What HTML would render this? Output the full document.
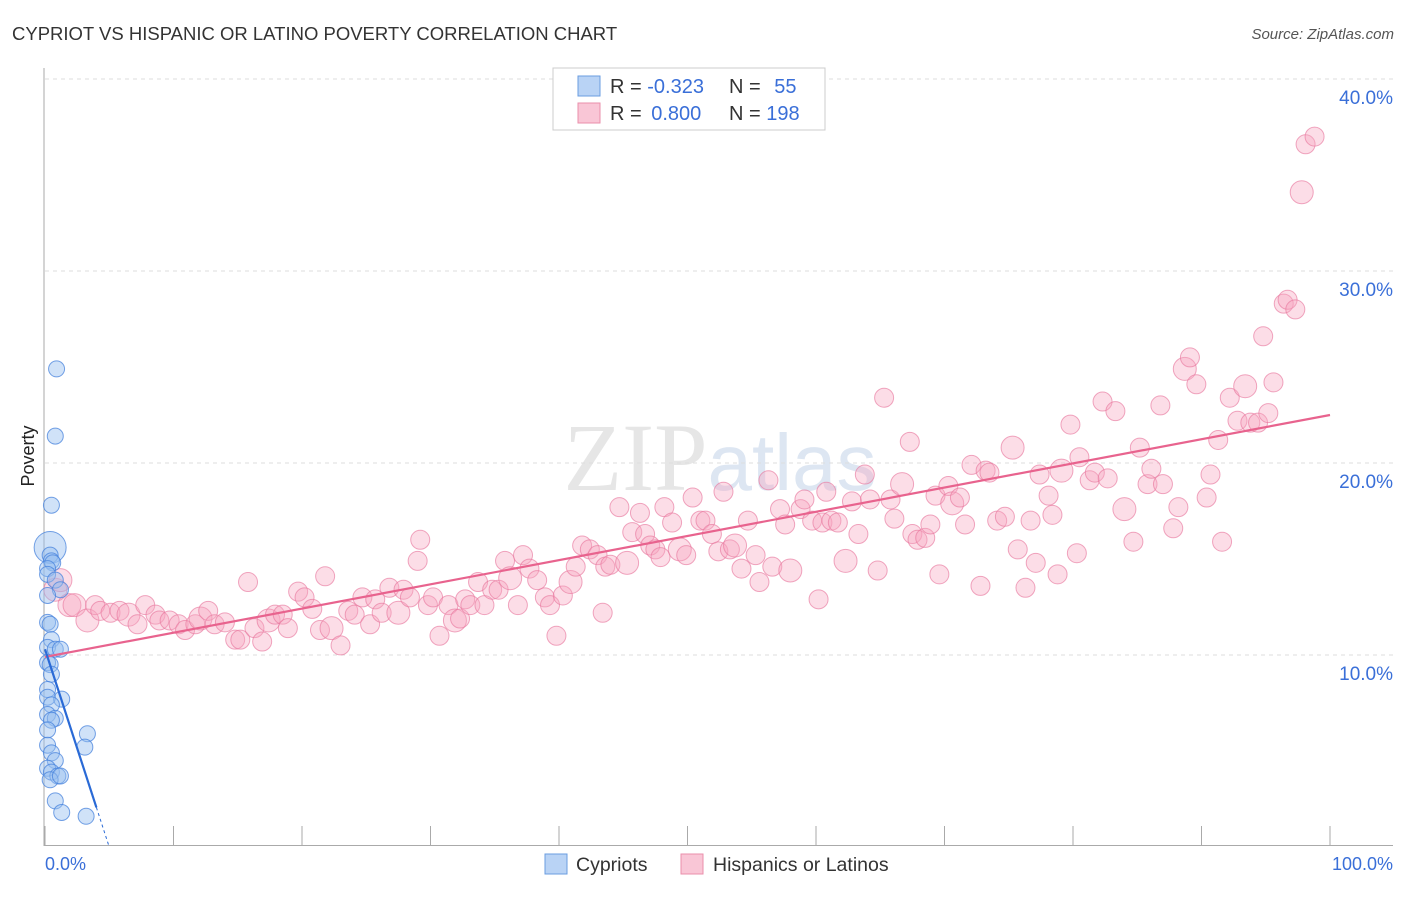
<!DOCTYPE html>
<html><head><meta charset="utf-8"><style>
body{margin:0;background:#fff;font-family:"Liberation Sans",sans-serif;}
svg text{font-family:"Liberation Sans",sans-serif;}
</style></head><body>
<svg id="chart" width="1406" height="892">
<text x="12" y="40" font-size="18.5" fill="#333">CYPRIOT VS HISPANIC OR LATINO POVERTY CORRELATION CHART</text>
<text x="1394" y="39" font-size="15" fill="#555" font-style="italic" text-anchor="end">Source: ZipAtlas.com</text>
<text x="720" y="490" font-size="96" fill="#e6e6e6" text-anchor="middle" font-family="Liberation Serif"><tspan font-family="Liberation Serif">ZIP</tspan><tspan fill="#dde6f2" font-family="Liberation Sans" font-size="80">atlas</tspan></text>
<text x="34" y="456" font-size="18" fill="#222" text-anchor="middle" transform="rotate(-90 34 456)">Poverty</text>
<g id="grid"></g><g id="axes"></g><g id="pink"></g><g id="blue"></g><g id="trends"></g>
<g>
<rect x="553" y="68" width="272" height="62" fill="#fff" stroke="#ccc"/>
<rect x="578" y="76" width="22" height="20" fill="#b9d3f5" stroke="#6a9ce0"/>
<rect x="578" y="103" width="22" height="20" fill="#f9c6d6" stroke="#ea8fab"/>
<text x="610" y="93" font-size="20" fill="#333">R = <tspan fill="#3a6fd8">-0.323</tspan></text>
<text x="729" y="93" font-size="20" fill="#333">N = <tspan fill="#3a6fd8" dx="8">55</tspan></text>
<text x="610" y="120" font-size="20" fill="#333">R = <tspan fill="#3a6fd8" dx="4">0.800</tspan></text>
<text x="729" y="120" font-size="20" fill="#333">N = <tspan fill="#3a6fd8">198</tspan></text>
</g>
<g>
<rect x="545" y="854" width="22" height="20" fill="#b9d3f5" stroke="#6a9ce0"/>
<text x="576" y="871" font-size="19.5" fill="#333">Cypriots</text>
<rect x="681" y="854" width="22" height="20" fill="#f9c6d6" stroke="#ea8fab"/>
<text x="713" y="871" font-size="19.5" fill="#333">Hispanics or Latinos</text>
</g>
<text x="45" y="870" font-size="18" fill="#3a6fd8">0.0%</text>
<text x="1393" y="870" font-size="18" fill="#3a6fd8" text-anchor="end">100.0%</text>
</svg>
<script>
const yTicks=[10,20,30,40];
const yTickLabels=["10.0%","20.0%","30.0%","40.0%"];
const xTicks=[0,10,20,30,40,50,60,70,80,90,100];
const pinkX=[0.8,1.2,1.9,2.3,3.3,3.9,4.3,5.1,5.8,6.5,7.2,7.8,8.6,8.9,9.7,10.4,10.9,11.7,12.1,12.7,13.2,14.0,14.8,15.2,15.8,16.3,16.9,17.4,17.9,18.5,18.9,19.7,20.2,20.8,21.4,21.8,22.3,23.0,23.6,24.1,24.7,25.3,25.7,26.2,26.8,27.5,27.9,28.4,29.0,29.2,29.8,30.2,30.7,31.4,31.9,32.3,32.7,33.1,33.7,34.2,34.8,35.3,35.8,36.2,36.8,37.2,37.7,38.3,38.9,39.3,39.8,40.3,40.9,41.3,41.8,42.4,43.0,43.4,43.6,44.0,44.7,45.3,45.7,46.3,46.7,47.1,47.5,47.9,48.2,48.8,49.4,49.9,50.4,51.0,51.4,51.9,52.4,52.8,53.3,53.7,54.2,54.7,55.3,55.6,56.3,56.6,57.2,57.6,58.0,58.8,59.1,59.7,60.2,60.5,60.8,61.2,61.7,62.3,62.8,63.3,63.8,64.2,64.8,65.3,65.8,66.1,66.7,67.3,67.5,67.9,68.5,68.9,69.3,69.6,70.3,70.6,71.2,71.6,72.1,72.8,73.2,73.5,74.1,74.7,75.3,75.7,76.3,76.7,77.1,77.4,78.1,78.4,78.8,79.1,79.8,80.3,80.5,81.3,81.7,82.3,82.7,83.3,84.0,84.7,85.2,85.8,86.1,86.8,87.0,87.8,88.2,88.7,89.1,89.6,90.4,90.7,91.3,91.6,92.2,92.8,93.4,93.8,94.4,94.8,95.2,95.6,96.4,96.7,97.3,97.8,98.1,98.8];
const pinkY=[13.4,13.9,12.6,12.6,11.8,12.6,12.3,12.2,12.3,12.1,11.6,12.6,12.1,11.8,11.8,11.6,11.3,11.6,11.9,12.3,11.6,11.7,10.8,10.8,13.8,11.4,10.7,11.8,12.1,12.1,11.4,13.3,13.0,12.4,11.3,14.1,11.4,10.5,12.3,12.1,13.0,11.6,12.9,12.2,13.5,12.2,13.4,13.0,14.9,16.0,12.6,13.0,11.0,12.6,11.8,11.9,12.9,12.6,13.8,12.6,13.4,13.4,14.9,14.0,12.6,15.2,14.5,13.9,13.0,12.6,11.0,13.1,13.8,14.6,15.7,15.5,15.2,12.2,14.6,14.7,17.7,14.8,16.4,17.4,16.3,15.7,15.5,15.1,17.7,16.9,15.5,15.2,18.2,17.0,17.0,16.3,15.4,18.5,15.5,15.7,14.5,17.0,15.2,13.8,19.1,14.6,17.6,16.8,14.4,17.6,18.1,17.0,12.9,16.9,18.5,17.0,16.9,14.9,18.0,16.3,19.4,18.1,14.4,23.4,18.1,17.1,18.9,21.1,16.3,16.0,16.1,16.8,18.3,14.2,18.8,17.9,18.2,16.8,19.9,13.6,19.6,19.5,17.0,17.2,20.8,15.5,13.5,17.0,14.8,19.4,18.3,17.3,14.2,19.6,22.0,15.3,20.3,19.1,19.5,23.2,19.2,22.7,17.6,15.9,20.8,18.9,19.7,23.0,18.9,16.6,17.7,24.9,25.5,24.1,18.2,19.4,21.2,15.9,23.4,22.2,24.0,22.1,22.1,26.6,22.6,24.2,28.3,28.5,28.0,34.1,36.6,37.0];
const blueX=[0.9,0.8,0.5,0.4,0.4,0.5,0.6,0.2,0.2,0.8,1.2,0.2,0.2,0.4,0.5,0.2,0.8,1.2,0.2,0.4,0.5,0.2,0.2,1.3,0.5,0.2,0.8,0.5,3.3,3.1,0.2,0.2,0.5,0.8,0.2,0.5,1.0,0.4,1.2,0.8,1.3,3.2];
const blueY=[24.9,21.4,17.8,15.6,15.2,14.9,14.8,14.5,14.2,13.9,13.4,13.1,11.7,11.6,10.8,10.4,10.3,10.3,9.6,9.5,9.0,8.2,7.8,7.7,7.4,6.9,6.7,6.6,5.9,5.2,6.1,5.3,4.9,4.5,4.1,3.9,3.7,3.5,3.7,2.4,1.8,1.6];
const pinkTrend=[9.9,22.5];
const blueTrend=[10.3,0];
const NS="http://www.w3.org/2000/svg";
const X0=45,X1=1330,Y0=847,PY=19.2;
function sx(v){return X0+(X1-X0)*v/100;}
function sy(v){return Y0-v*PY;}
function mk(tag,attrs,parent){const e=document.createElementNS(NS,tag);for(const k in attrs)e.setAttribute(k,attrs[k]);parent.appendChild(e);return e;}
const grid=document.getElementById('grid'),axes=document.getElementById('axes');
yTicks.forEach((t,i)=>{
  const l=mk('line',{x1:X0,x2:1393,y1:sy(t),y2:sy(t),stroke:'#ddd','stroke-dasharray':'4,4'},grid);
  
  
  const tx=mk('text',{x:1393,y:sy(t)+25,'font-size':19,fill:'#3a6fd8','text-anchor':'end'},grid);
  tx.textContent=yTickLabels[i];
  
  
});
const ya=mk('line',{x1:44,x2:44,y1:68,y2:846,stroke:'#aaa'},axes);


const xa=mk('line',{x1:44,x2:1393,y1:845.5,y2:845.5,stroke:'#aaa'},axes);


xTicks.forEach(t=>{
  const l=mk('line',{x1:sx(t),x2:sx(t),y1:826,y2:845,stroke:'#aaa'},axes);
  
  
});
const pg=document.getElementById('pink');
pinkX.forEach((x,i)=>{
  const r=(i%9===0||i<5)?11.5:9.5;
  const c=mk('circle',{cx:sx(x),cy:sy(pinkY[i]),r:r,fill:'rgba(246,165,192,0.38)',stroke:'rgba(232,120,158,0.65)','stroke-width':1},pg);
  
  
});
const bg=document.getElementById('blue');
blueX.forEach((x,i)=>{
  const r=i===3?16:8;
  const c=mk('circle',{cx:sx(x),cy:sy(blueY[i]),r:r,fill:'rgba(150,190,240,0.45)',stroke:'rgba(70,130,220,0.75)','stroke-width':1},bg);
  
  
});
const tg=document.getElementById('trends');
const pt=mk('line',{x1:sx(0),y1:sy(pinkTrend[0]),x2:sx(100),y2:sy(pinkTrend[1]),stroke:'#e8638e','stroke-width':2.2},tg);


const bSlope=(blueTrend[1]-blueTrend[0])/5;
const bt=mk('line',{x1:sx(0),y1:sy(blueTrend[0]),x2:sx(4),y2:sy(blueTrend[0]+bSlope*4),stroke:'#2a6ad6','stroke-width':2.2},tg);


const bd=mk('line',{x1:sx(4),y1:sy(blueTrend[0]+bSlope*4),x2:sx(5),y2:sy(blueTrend[1]),stroke:'#2a6ad6','stroke-width':1,'stroke-dasharray':'3,3'},tg);


</script>
</body></html>
